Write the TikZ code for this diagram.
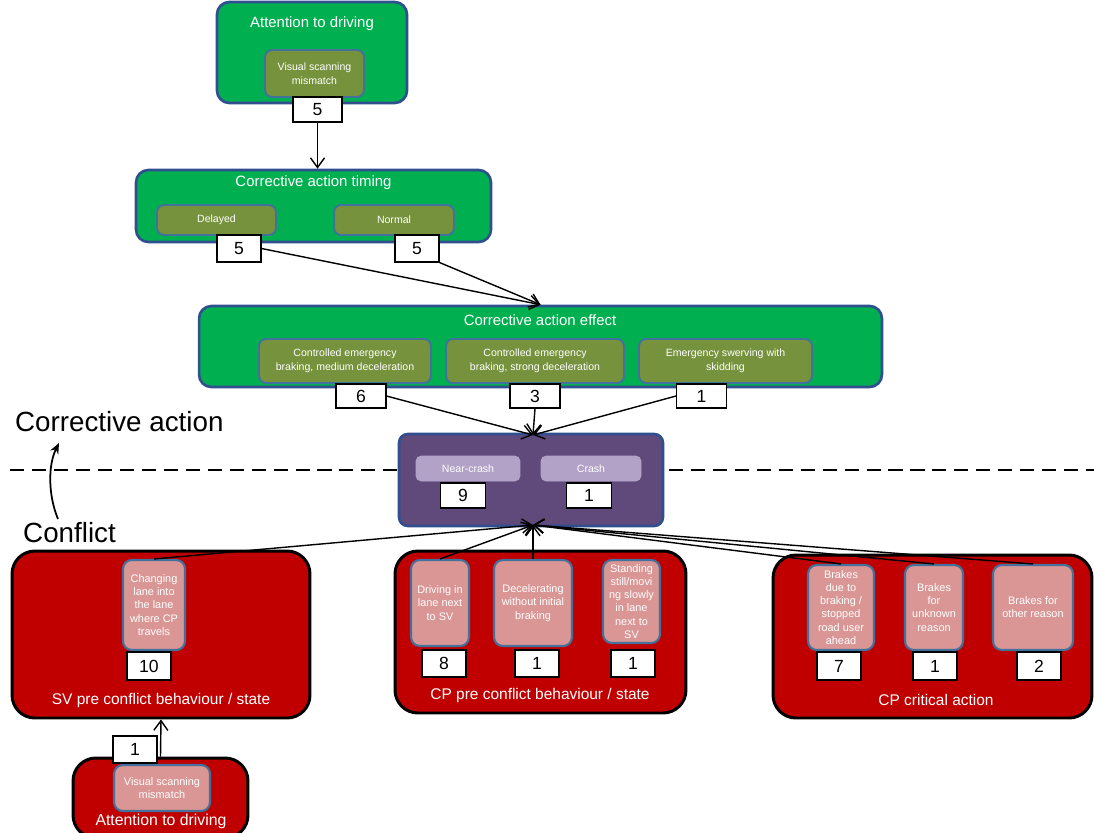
\documentclass[tikz,border=0pt]{standalone}
\usepackage{fontspec}
\setmainfont{Liberation Sans}
\usetikzlibrary{arrows.meta}
\definecolor{boxgreen}{HTML}{00B050}
\definecolor{boxolive}{HTML}{76923C}
\definecolor{edgeblue}{HTML}{2F4F8F}
\definecolor{inneredge}{HTML}{41719C}
\definecolor{boxpurple}{HTML}{604A7B}
\definecolor{lightpurple}{HTML}{B3A2C7}
\definecolor{boxred}{HTML}{C00000}
\definecolor{boxpink}{HTML}{D99694}
\begin{document}
\begin{tikzpicture}[x=0.02cm,y=-0.02cm,
    greenbox/.style={draw=edgeblue,line width=1.5pt,fill=boxgreen,rounded corners=7pt,inner sep=0pt},
    purplebox/.style={draw=edgeblue,line width=1.5pt,fill=boxpurple,rounded corners=5pt,inner sep=0pt},
    redbox/.style={draw=black,line width=1.7pt,fill=boxred,rounded corners=13pt,inner sep=0pt},
    olivebox/.style={draw=inneredge,line width=1.1pt,fill=boxolive,rounded corners=4pt,inner sep=0pt,
      text=white,align=center,font=\fontsize{6}{8}\selectfont},
    lilacbox/.style={draw=lightpurple,line width=0.5pt,fill=lightpurple,rounded corners=3pt,inner sep=0pt,
      text=white,font=\fontsize{6}{8}\selectfont,minimum height=0.5cm},
    pinkbox/.style={draw=inneredge,line width=1.2pt,fill=boxpink,rounded corners=5pt,inner sep=0pt,
      text=white,align=center,font=\fontsize{6.2}{7.5}\selectfont},
    numbox/.style={draw=black,line width=0.6pt,fill=white,inner sep=0pt,
      minimum width=0.88cm,minimum height=0.54cm,font=\fontsize{10}{11}\selectfont},
    title/.style={text=white,font=\fontsize{8.5}{10}\selectfont},
    redtitle/.style={text=white,font=\fontsize{8.8}{10}\selectfont},
    arr/.style={-{Straight Barb[length=5.5pt,width=8pt]},line width=0.8pt},
  ]
  \useasboundingbox (0,0) rectangle (1094,832);

  % corrective action / conflict border
  \draw[line width=1.4pt,dash pattern=on 8pt off 4.5pt] (10,470) -- (1094,470);
  \node[anchor=west,font=\fontsize{15.8}{17}\selectfont] (corr) at (9,422) {Corrective action};
  \node[anchor=west,font=\fontsize{15.8}{17}\selectfont] (confl) at (17,533) {Conflict};
  \coordinate (c1) at (58,519);
  \coordinate (c2) at (59,443);
  \draw[-{Stealth[length=6pt,width=5pt]},line width=1pt] (c1) .. controls (48,495) and (48,465) .. (c2);

  % top: corrective action side
  \node[greenbox,minimum width=3.8cm,minimum height=2.02cm] (att) at (312,52.5) {};
  \node[title] (atttxt) at (312,24) {Attention to driving};
  \node[olivebox,minimum width=1.98cm,minimum height=0.94cm] (vsm) at (314.5,73.5) {Visual scanning\\mismatch};
  \node[numbox,minimum width=0.98cm,minimum height=0.5cm] (n5a) at (317.5,109.5) {5};

  \node[greenbox,minimum width=7.1cm,minimum height=1.44cm] (timing) at (313.5,206) {};
  \node[title] (timtxt) at (313.5,183) {Corrective action timing};
  \node[olivebox,minimum width=2.38cm,minimum height=0.6cm] (delayed) at (216.5,220) {Delayed};
  \node[olivebox,minimum width=2.4cm,minimum height=0.6cm] (normal) at (394,220) {Normal};
  \node[numbox] (n5b) at (239,248.5) {5};
  \node[numbox] (n5c) at (417,248.5) {5};

  \node[greenbox,minimum width=13.66cm,minimum height=1.62cm] (effect) at (540.5,346.5) {};
  \node[title] (efftxt) at (540,320) {Corrective action effect};
  \node[olivebox,minimum width=3.44cm,minimum height=0.88cm] (cemb) at (345,361) {Controlled emergency\\braking, medium deceleration};
  \node[olivebox,minimum width=3.56cm,minimum height=0.88cm] (cesb) at (535,361) {Controlled emergency\\braking, strong deceleration};
  \node[olivebox,minimum width=3.46cm,minimum height=0.88cm] (ess) at (725.5,361) {Emergency swerving with\\skidding};
  \node[numbox,minimum width=1cm,minimum height=0.48cm] (n6) at (361,396) {6};
  \node[numbox,minimum width=1cm,minimum height=0.48cm] (n3) at (535,396) {3};
  \node[numbox,minimum width=1cm,minimum height=0.48cm] (n1a) at (701.5,396) {1};

  % outcome
  \node[purplebox,minimum width=5.28cm,minimum height=1.84cm] (outcome) at (531,480) {};
  \node[lilacbox,minimum width=2.08cm] (nearcrash) at (468,468.5) {Near-crash};
  \node[lilacbox,minimum width=2.0cm] (crash) at (591,468.5) {Crash};
  \node[numbox,minimum width=0.9cm,minimum height=0.5cm] (n9) at (463,495.5) {9};
  \node[numbox,minimum width=0.9cm,minimum height=0.5cm] (n1b) at (589,495.5) {1};
  \coordinate (intop) at (533,435);
  \coordinate (inbot) at (533,525);

  % bottom: conflict side
  \node[redbox,minimum width=5.96cm,minimum height=3.34cm] (sv) at (161,634.5) {};
  \node[pinkbox,minimum width=1.24cm,minimum height=1.8cm] (lanechg) at (154,605) {Changing\\lane into\\the lane\\where CP\\travels};
  \node[numbox,minimum height=0.56cm] (n10) at (149,666) {10};
  \node[redtitle] (svtxt) at (161,700) {SV pre conflict behaviour / state};

  \node[redbox,minimum width=5.82cm,minimum height=3.24cm] (cp) at (540.5,632) {};
  \node[pinkbox,minimum width=1.16cm,minimum height=1.72cm] (drvlane) at (440,603) {Driving in\\lane next\\to SV};
  \node[pinkbox,minimum width=1.56cm,minimum height=1.72cm] (decel) at (533,603) {Decelerating\\without initial\\braking};
  \node[pinkbox,minimum width=1.14cm,minimum height=1.66cm] (standing) at (631.5,601.5) {Standing\\still/movi\\ng slowly\\in lane\\next to\\SV};
  \node[numbox] (n8) at (444,663.5) {8};
  \node[numbox] (n1c) at (537,663.5) {1};
  \node[numbox] (n1d) at (633,663.5) {1};
  \node[redtitle] (cptxt) at (540,695) {CP pre conflict behaviour / state};

  \node[redbox,minimum width=6.38cm,minimum height=3.26cm] (crit) at (932.5,636.5) {};
  \node[pinkbox,minimum width=1.32cm,minimum height=1.7cm] (brkahead) at (841,607.5) {Brakes\\due to\\braking /\\stopped\\road user\\ahead};
  \node[pinkbox,minimum width=1.16cm,minimum height=1.7cm] (brkunk) at (934,607.5) {Brakes\\for\\unknown\\reason};
  \node[pinkbox,minimum width=1.6cm,minimum height=1.7cm] (brkoth) at (1033,607.5) {Brakes for\\other reason};
  \node[numbox,minimum height=0.56cm] (n7) at (839,666) {7};
  \node[numbox,minimum height=0.56cm] (n1e) at (935,666) {1};
  \node[numbox,minimum height=0.56cm] (n2) at (1039,666) {2};
  \node[redtitle] (crittxt) at (936,700) {CP critical action};

  \node[redbox,minimum width=3.5cm,minimum height=1.6cm] (attb) at (160.5,798) {};
  \node[pinkbox,minimum width=1.92cm,minimum height=0.92cm] (vsmb) at (162,788) {Visual scanning\\mismatch};
  \node[numbox] (n1f) at (135,749.5) {1};
  \node[redtitle,font=\fontsize{9}{10}\selectfont] (attbtxt) at (161,821) {Attention to driving};

  \begin{scope}[arr]
    \draw (n5a.south) -- (n5a.south |- timing.north);
    \draw (n5b.east) -- (effect.north);
    \draw (n5c.south east) -- (effect.north);
    \draw (n6.east) -- (intop);
    \draw (n3.south) -- (intop);
    \draw (n1a.west) -- (intop);
    \draw (lanechg.north) -- (inbot);
    \draw (drvlane.north) -- (inbot);
    \draw (decel.north) -- (inbot);
    \draw (brkahead.north) -- (inbot);
    \draw (brkunk.north) -- (inbot);
    \draw (brkoth.north) -- (inbot);
    \draw (attb.north) -- (sv.south);
  \end{scope}
\end{tikzpicture}
\end{document}
